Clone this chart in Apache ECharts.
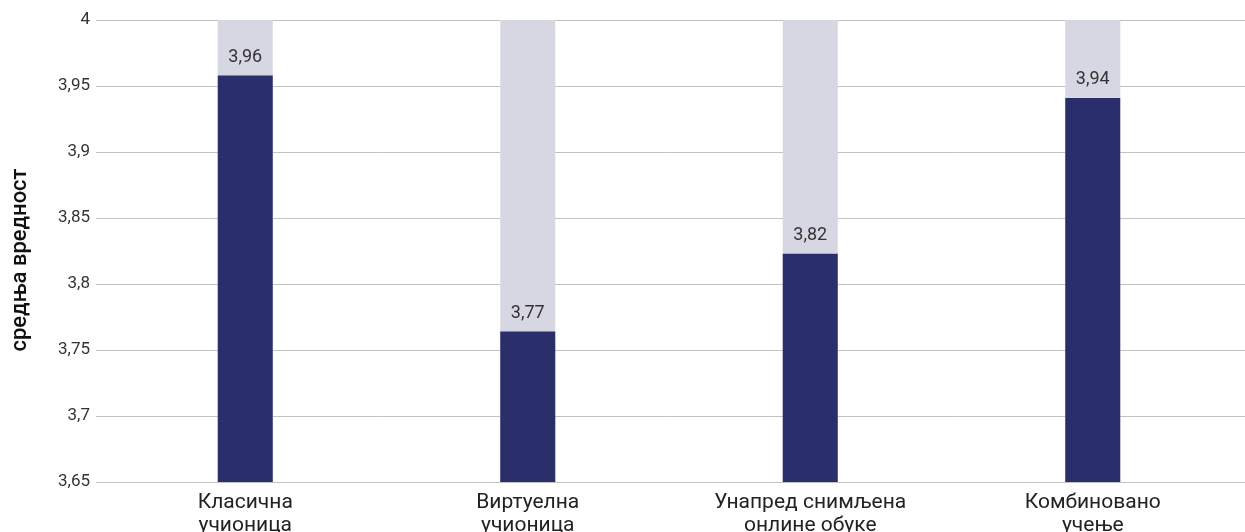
<!DOCTYPE html>
<html>
<head>
<meta charset="utf-8">
<script src="https://cdn.jsdelivr.net/npm/echarts@6/dist/echarts.min.js"></script>
<style>html,body{margin:0;padding:0;background:#fff;}#c{width:1245px;height:532px;}</style>
</head>
<body>
<div id="c"></div>
<script>
const categories = ['Класична\nучионица', 'Виртуелна\nучионица', 'Унапред снимљена\nонлине обуке', 'Комбиновано\nучење'];
const barValues = [3.958, 3.764, 3.823, 3.941];
const labelValues = ['3,96', '3,77', '3,82', '3,94'];
const yMin = 3.65, yMax = 4, yStep = 0.05;
const yName = 'средња вредност';

const chart = echarts.init(document.getElementById('c'));
const fmt = v => String(parseFloat(v.toFixed(2))).replace('.', ',');
chart.setOption({
  animation: false,
  grid: [
    {left: 96, right: 0, top: 20, bottom: 50, outerBoundsMode: 'none', containLabel: false},
    {left: 104, right: 11, top: 20, bottom: 50, outerBoundsMode: 'none', containLabel: false}
  ],
  xAxis: [
    {type: 'category', gridIndex: 0, data: categories, show: false},
    {type: 'category', gridIndex: 1, data: categories,
     axisLine: {show: false}, axisTick: {show: false},
     axisLabel: {margin: 9, color: '#222', fontSize: 21, lineHeight: 23,
                 fontFamily: 'Liberation Sans Narrow, Roboto, sans-serif'}}
  ],
  yAxis: [
    {type: 'value', gridIndex: 0, min: yMin, max: yMax, interval: yStep,
     axisLine: {show: false}, axisTick: {show: false},
     splitLine: {lineStyle: {color: '#c2c2c2', width: 1}},
     axisLabel: {formatter: fmt, color: '#333', fontSize: 17, margin: 6, fontFamily: 'Roboto, sans-serif'},
     name: yName, nameLocation: 'middle', nameGap: 65, nameRotate: 90,
     nameTextStyle: {fontSize: 22, color: '#111', fontWeight: 500, fontFamily: 'Roboto, sans-serif', padding: [0, 18, 0, 0]}},
    {type: 'value', gridIndex: 1, min: yMin, max: yMax, interval: yStep, show: false}
  ],
  series: [{
    type: 'bar', xAxisIndex: 1, yAxisIndex: 1,
    data: barValues, barWidth: 55,
    itemStyle: {color: '#2a2f6c'},
    showBackground: true,
    backgroundStyle: {color: '#d7d7e3'},
    label: {show: true, position: 'top', distance: 9, color: '#333', fontSize: 18,
            fontFamily: 'Roboto, sans-serif',
            formatter: p => labelValues[p.dataIndex]}
  }]
});
</script>
</body>
</html>
